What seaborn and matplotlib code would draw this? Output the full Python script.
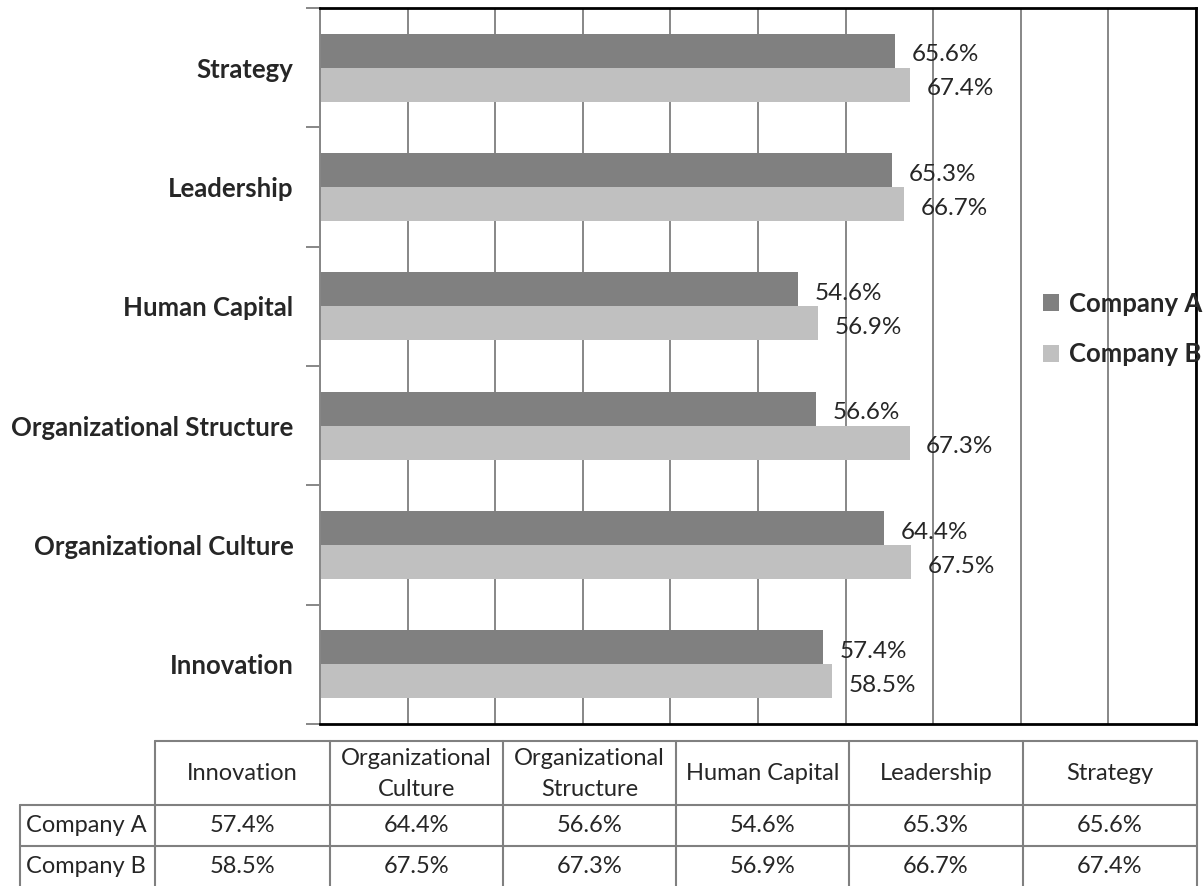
import matplotlib.pyplot as plt
import numpy as np
import pandas as pd
import seaborn as sns
from matplotlib.lines import Line2D

# chart data (bottom-to-top order of the bars, left-to-right order of the table)
categories = ["Innovation", "Organizational Culture", "Organizational Structure",
              "Human Capital", "Leadership", "Strategy"]
table_headers = ["Innovation", "Organizational\nCulture", "Organizational\nStructure",
                 "Human Capital", "Leadership", "Strategy"]
series = ["Company A", "Company B"]
company_a = [57.4, 64.4, 56.6, 54.6, 65.3, 65.6]
company_b = [58.5, 67.5, 67.3, 56.9, 66.7, 67.4]
colors = ["#808080", "#c0c0c0"]

W, H = 1204, 886
FS_BOLD = 18.5   # category labels and legend
FS_LABEL = 17.5  # bar value labels
FS_TABLE = 17

sns.set_style("white")
plt.rcParams["font.family"] = ["Lato", "DejaVu Sans"]

df = pd.DataFrame({
    "category": categories * 2,
    "company": [series[0]] * len(categories) + [series[1]] * len(categories),
    "value": company_a + company_b,
})

fig = plt.figure(figsize=(W / 100, H / 100), dpi=100)
ax = fig.add_axes([320 / W, 1 - 724 / H, (1196 - 320) / W, (724 - 8) / H])

sns.barplot(data=df, x="value", y="category", hue="company", order=categories[::-1],
            hue_order=series, palette=colors, width=0.57, saturation=1,
            orient="h", linewidth=0, ax=ax)

# x axis: 0-100 %, gridlines only
ax.set_xlim(0, 100)
ax.set_xticks(np.arange(0, 101, 10))
ax.set_xticklabels([])
ax.tick_params(axis="x", length=0)
ax.grid(axis="x", color="#878787", linewidth=1.4)
ax.set_axisbelow(True)
ax.set_xlabel("")
ax.set_ylabel("")

# y axis: ticks between categories, bold labels
ax.set_yticks(np.arange(-0.5, len(categories)), minor=True)
ax.tick_params(axis="y", which="minor", left=True, length=10, width=1.4, color="#878787")
ax.tick_params(axis="y", which="major", left=False, length=0, pad=19, labelsize=FS_BOLD)
for lab in ax.get_yticklabels():
    lab.set_fontweight("bold")

for side in ["top", "right", "bottom"]:
    ax.spines[side].set_color("black")
    ax.spines[side].set_linewidth(2)
ax.spines["left"].set_color("#878787")
ax.spines["left"].set_linewidth(1.4)

# data labels
for container in ax.containers:
    texts = ax.bar_label(container, labels=[f"{b.get_width():.1f}%" for b in container],
                         padding=12, fontsize=FS_LABEL)
    for t in texts:
        t.xyann = (t.xyann[0], t.xyann[1] - 3)

sns.move_legend(ax, "center left", bbox_to_anchor=(1043 / W, 1 - 329 / H),
                bbox_transform=fig.transFigure, frameon=False, title=None,
                borderpad=0, borderaxespad=0, handlelength=0.62, handleheight=0.62,
                handletextpad=0.38, labelspacing=1.05,
                prop={"weight": "bold", "size": FS_BOLD})

# data table below the chart
line_kw = dict(color="#808080", linewidth=1.5, transform=fig.transFigure)
col_edges = [155, 330, 503, 676, 849, 1023, 1197]
row_edges = [741, 805, 846, 887]
left_edge = 20


def hline(y, x0, x1):
    fig.add_artist(Line2D([x0 / W, x1 / W], [1 - y / H, 1 - y / H], **line_kw))


def vline(x, y0, y1):
    fig.add_artist(Line2D([x / W, x / W], [1 - y0 / H, 1 - y1 / H], **line_kw))


hline(row_edges[0], col_edges[0], col_edges[-1])
hline(row_edges[1], left_edge, col_edges[-1])
hline(row_edges[2], left_edge, col_edges[-1])
vline(left_edge, row_edges[1], H)
for x in col_edges:
    vline(x, row_edges[0], H)

for i, head in enumerate(table_headers):
    xc = (col_edges[i] + col_edges[i + 1]) / 2
    yc = (row_edges[0] + row_edges[1]) / 2 + 1
    fig.text(xc / W, 1 - yc / H, head, ha="center", va="center", fontsize=FS_TABLE,
             linespacing=1.6)

for r, (name, vals) in enumerate(zip(series, [company_a, company_b])):
    yc = (row_edges[r + 1] + row_edges[r + 2]) / 2
    fig.text((left_edge + 6) / W, 1 - yc / H, name, ha="left", va="center",
             fontsize=FS_TABLE)
    for i, v in enumerate(vals):
        xc = (col_edges[i] + col_edges[i + 1]) / 2
        fig.text(xc / W, 1 - yc / H, f"{v:.1f}%", ha="center", va="center",
                 fontsize=FS_TABLE)

fig.savefig("out.png", dpi=100)
